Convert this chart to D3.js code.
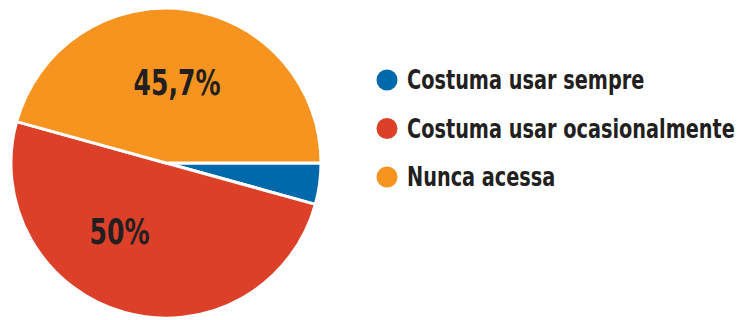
<!DOCTYPE html>
<html>
<head>
<meta charset="utf-8">
<script src="https://cdn.jsdelivr.net/npm/d3@7"></script>
<style>
  body { margin: 0; background: #fff; }
  text { font-family: "DejaVu Sans Condensed", "Liberation Sans Narrow", sans-serif; font-weight: bold; }
</style>
</head>
<body>
<div id="chart"></div>
<script>
var w = 739;
var h = 320;

var categories = ["Costuma usar sempre", "Costuma usar ocasionalmente", "Nunca acessa"];
var values = [4.3, 50, 45.7];
var labels = ["", "50%", "45,7%"];
var colors = ["#0069ab", "#dc4029", "#f7941f"];

var cx = 166, cy = 163, r = 155;

var svg = d3.select("#chart").append("svg")
  .attr("width", w)
  .attr("height", h);

var color = d3.scaleOrdinal().domain(categories).range(colors);

// start at 3 o'clock, go clockwise
var pie = d3.pie()
  .sort(null)
  .startAngle(Math.PI / 2)
  .endAngle(Math.PI / 2 + 2 * Math.PI)
  .value(function(d) { return d.v; });

var data = categories.map(function(c, i) { return { name: c, v: values[i], label: labels[i] }; });
var arcs = pie(data);

var arc = d3.arc().innerRadius(0).outerRadius(r);

var g = svg.append("g").attr("transform", "translate(" + cx + "," + cy + ")");

g.selectAll("path")
  .data(arcs)
  .enter().append("path")
  .attr("d", arc)
  .attr("fill", function(d) { return color(d.data.name); })
  .attr("stroke", "#fff")
  .attr("stroke-width", 3)
  .attr("stroke-linejoin", "round");

// label angle: mid of slice, but the big red one sits a bit further round
function labelPos(d) {
  var a = (d.startAngle + d.endAngle) / 2;
  if (d.data.label === "50%") a += 0.33;
  var rr = r * 0.53;
  return [Math.sin(a) * rr, -Math.cos(a) * rr];
}

var lbl = g.selectAll("text.lbl")
  .data(arcs.filter(function(d) { return d.data.label; }))
  .enter().append("text")
  .attr("class", "lbl")
  .attr("text-anchor", "middle")
  .attr("fill", "#231f20")
  .style("font-size", "35px")
  .text(function(d) { return d.data.label; });

// squeeze to a condensed look
var big = lbl.filter(function(d) { return d.data.label === "45,7%"; }).node();
var sx = 87 / big.getComputedTextLength();
lbl.attr("transform", function(d) {
  var p = labelPos(d);
  return "translate(" + p[0] + "," + (p[1] + 13) + ") scale(" + sx + ",1)";
});

// legend
var legend = svg.append("g").attr("transform", "translate(387,80)");
var item = legend.selectAll("g")
  .data(categories)
  .enter().append("g")
  .attr("transform", function(d, i) { return "translate(0," + i * 48.5 + ")"; });

item.append("circle")
  .attr("r", 10.5)
  .attr("fill", function(d) { return color(d); });

var lt = item.append("text")
  .attr("dy", "0.36em")
  .attr("fill", "#231f20")
  .style("font-size", "26px")
  .text(function(d) { return d; });

var longest = d3.max(lt.nodes(), function(n) { return n.getComputedTextLength(); });
var lsx = 328 / longest;
lt.attr("transform", "translate(20,0) scale(" + lsx + ",1)");
</script>
</body>
</html>
